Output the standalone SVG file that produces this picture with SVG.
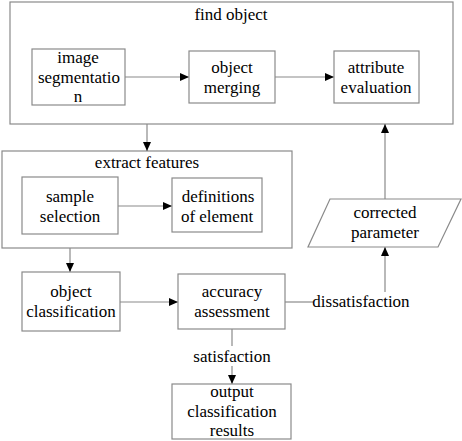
<svg xmlns="http://www.w3.org/2000/svg" width="462" height="441" viewBox="0 0 462 441">
<defs>
<marker id="ah" markerUnits="userSpaceOnUse" markerWidth="9" markerHeight="8" refX="9" refY="4" orient="auto">
<path d="M0,0 L9,4 L0,8 z" fill="#000"/>
</marker>
<style>
.box{fill:#fff;stroke:#8a8a8a;stroke-width:1.2}
.grp{fill:none;stroke:#8a8a8a;stroke-width:1.2}
.ln{fill:none;stroke:#8a8a8a;stroke-width:1.2}
.ar{fill:none;stroke:#8a8a8a;stroke-width:1.2;marker-end:url(#ah)}
text{font-size:17px;fill:#000;text-anchor:middle}
</style>
</defs>
<rect width="462" height="441" fill="#fff"/>
<g font-family="Liberation Serif, Times New Roman, serif">
<g id="find-object">
<rect class="grp" x="10" y="2" width="443" height="122"/>
<text x="231" y="20">find object</text>
</g>
<g id="extract-features">
<rect class="grp" x="2" y="151" width="290" height="97"/>
<text x="147" y="168">extract features</text>
</g>
<g id="connectors">
<line class="ar" x1="125" y1="77" x2="189" y2="77"/>
<line class="ar" x1="275" y1="77" x2="334" y2="77"/>
<line class="ar" x1="147" y1="124" x2="147" y2="151"/>
<line class="ar" x1="385" y1="199" x2="385" y2="124"/>
<line class="ar" x1="118" y1="206" x2="172" y2="206"/>
<line class="ar" x1="70" y1="248" x2="70" y2="272"/>
<line class="ar" x1="120" y1="302" x2="178" y2="302"/>
<line class="ln" x1="285" y1="302" x2="313" y2="302"/>
<line class="ar" x1="385" y1="292" x2="385" y2="247"/>
<line class="ln" x1="232" y1="329" x2="232" y2="346"/>
<line class="ar" x1="232" y1="366" x2="232" y2="384"/>
<text x="361" y="307">dissatisfaction</text>
<text x="232" y="362">satisfaction</text>
</g>
<g id="image-segmentation">
<rect class="box" x="32" y="49" width="93" height="56"/>
<text x="78" y="63">image</text>
<text x="79" y="83">segmentatio</text>
<text x="78" y="102">n</text>
</g>
<g id="object-merging">
<rect class="box" x="189" y="51" width="86" height="52"/>
<text x="232" y="73">object</text>
<text x="232" y="93">merging</text>
</g>
<g id="attribute-evaluation">
<rect class="box" x="334" y="51" width="85" height="52"/>
<text x="376" y="73">attribute</text>
<text x="376" y="93">evaluation</text>
</g>
<g id="sample-selection">
<rect class="box" x="22" y="177" width="96" height="57"/>
<text x="70" y="202">sample</text>
<text x="70" y="222">selection</text>
</g>
<g id="definitions-of-element">
<rect class="box" x="172" y="178" width="90" height="54"/>
<text x="218" y="202">definitions</text>
<text x="217" y="222">of element</text>
</g>
<g id="corrected-parameter">
<polygon class="box" points="330,199 461,199 438,247 308,247"/>
<text x="385" y="218">corrected</text>
<text x="385" y="238">parameter</text>
</g>
<g id="object-classification">
<rect class="box" x="22" y="272" width="98" height="59"/>
<text x="71" y="297">object</text>
<text x="71" y="317">classification</text>
</g>
<g id="accuracy-assessment">
<rect class="box" x="178" y="274" width="107" height="55"/>
<text x="232" y="297">accuracy</text>
<text x="232" y="317">assessment</text>
</g>
<g id="output-classification-results">
<rect class="box" x="172" y="384" width="119" height="55"/>
<text x="232" y="397">output</text>
<text x="232" y="417">classification</text>
<text x="232" y="436">results</text>
</g>
</g>
</svg>
